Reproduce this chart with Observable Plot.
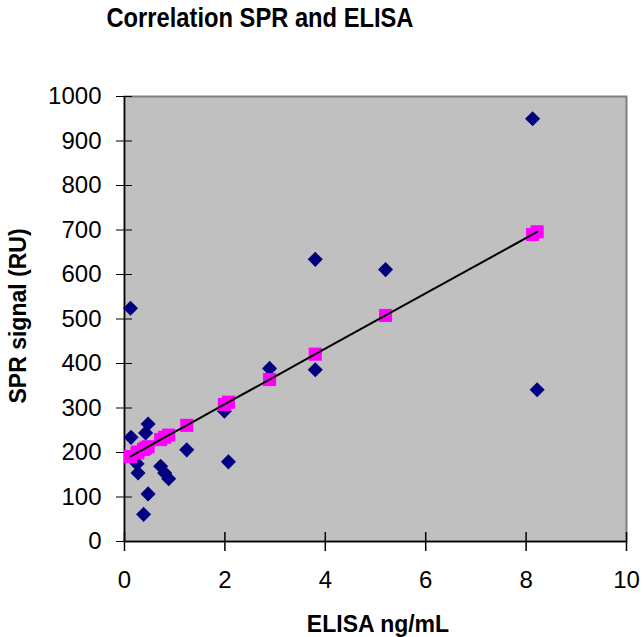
<!DOCTYPE html>
<html>
<head>
<meta charset="utf-8">
<script src="https://cdn.jsdelivr.net/npm/d3@7"></script>
<script src="https://cdn.jsdelivr.net/npm/@observablehq/plot@0.6"></script>
<style>
  html, body { margin: 0; padding: 0; background: #fff; }
  #chart { width: 643px; height: 637px; }
</style>
</head>
<body>
<div id="chart"></div>
<script>
// Measured (blue diamonds): ELISA ng/mL vs SPR signal (RU)
const elisa = [0.13, 0.12, 0.47, 0.42, 0.25, 0.27, 0.47, 0.38, 0.72, 0.80, 0.88, 1.24, 2.07, 1.99, 2.89, 3.80, 3.80, 5.20, 8.13, 8.22];
const spr   = [234, 524, 264, 244, 175, 154, 107, 61, 169, 154, 141, 206, 179, 293, 389, 386, 634, 611, 950, 341];

// Predicted (magenta squares)
const predX = [0.12, 0.25, 0.27, 0.38, 0.42, 0.47, 0.72, 0.80, 0.88, 1.24, 1.99, 2.07, 2.89, 3.80, 5.20, 8.13, 8.22];
const predY = [191, 199, 201, 207, 210, 213, 229, 234, 239, 261, 308, 313, 364, 421, 508, 690, 696];

const xTicks = [0, 2, 4, 6, 8, 10];
const yTicks = [0, 100, 200, 300, 400, 500, 600, 700, 800, 900, 1000];

const titleText = "Correlation SPR and ELISA";
const xLabel = "ELISA ng/mL";
const yLabel = "SPR signal (RU)";

const measured = elisa.map((x, i) => ({x, y: spr[i]}));
const predicted = predX.map((x, i) => ({x, y: predY[i]}));

const W = 643, H = 637;
const mL = 124, mR = 17, mT = 96, mB = 96;
const plotW = W - mL - mR, plotH = H - mT - mB;

const chart = Plot.plot({
  width: W,
  height: H,
  marginLeft: mL,
  marginRight: mR,
  marginTop: mT,
  marginBottom: mB,
  style: {fontFamily: "'Liberation Sans', Arial, sans-serif", fontSize: "24px", background: "#fff", color: "#000"},
  x: {domain: [0, 10]},
  y: {domain: [0, 1000]},
  marks: [
    Plot.frame({fill: "#C0C0C0", stroke: "#808080", strokeWidth: 2}),
    Plot.axisX({ticks: xTicks, tickFormat: d => String(d), tickSize: 10, tickPadding: 19, label: null, stroke: "#000", strokeWidth: 1.5, fontSize: 24}),
    Plot.axisY({ticks: yTicks, tickFormat: d => String(d), tickSize: 8, tickPadding: 15, label: null, stroke: "#000", strokeWidth: 1, fontSize: 24}),
    Plot.tickX(xTicks, {x: d => d, insetTop: plotH - 9, stroke: "#000", strokeWidth: 1.5}),
    Plot.tickY(yTicks, {y: d => d, insetRight: plotW - 8, stroke: "#000", strokeWidth: 1}),
    Plot.ruleX([0], {stroke: "#000", strokeWidth: 1.5}),
    Plot.ruleY([0], {stroke: "#000", strokeWidth: 1.5}),
    Plot.dot(measured, {x: "x", y: "y", symbol: "diamond2", r: 6.8, fill: "#000080", stroke: "none"}),
    Plot.dot(predicted, {x: "x", y: "y", symbol: "square", r: 7.4, fill: "#FF00FF", stroke: "none"}),
    Plot.line(predicted, {x: "x", y: "y", stroke: "#000", strokeWidth: 2})
  ]
});

const svg = d3.select(chart);
svg.append("text")
  .attr("x", 260).attr("y", 27)
  .attr("text-anchor", "middle")
  .attr("font-weight", "bold")
  .attr("font-size", 28)
  .attr("textLength", 307)
  .attr("lengthAdjust", "spacingAndGlyphs")
  .text(titleText);
svg.append("text")
  .attr("x", 378).attr("y", 632)
  .attr("text-anchor", "middle")
  .attr("font-weight", "bold")
  .attr("font-size", 23)
  .text(xLabel);
svg.append("text")
  .attr("transform", "translate(26,316) rotate(-90)")
  .attr("text-anchor", "middle")
  .attr("font-weight", "bold")
  .attr("font-size", 23)
  .text(yLabel);

document.getElementById("chart").appendChild(chart);
</script>
</body>
</html>
